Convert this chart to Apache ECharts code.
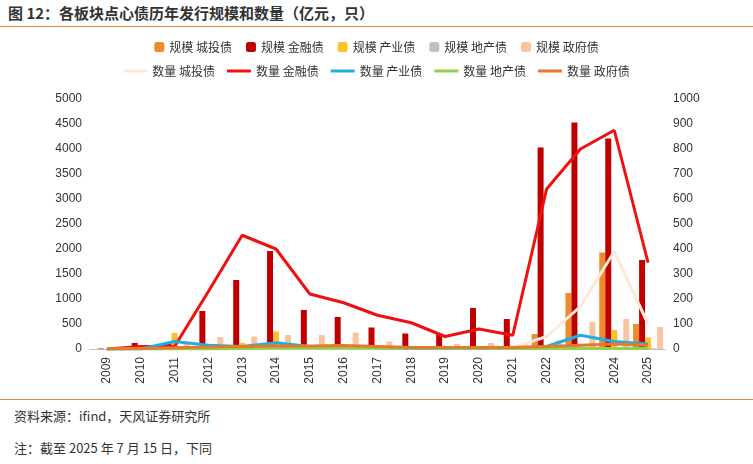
<!DOCTYPE html>
<html lang="zh-cn">
<head>
  <meta charset="utf-8">
  <script src="https://cdn.jsdelivr.net/npm/echarts@6/dist/echarts.min.js"></script>
  <style>
    body { margin: 0; width: 753px; height: 464px; font-family: "Noto Sans CJK SC", sans-serif; background: #fff; }
    .title { position: absolute; left: 8px; top: 2px; font-size: 15px; font-weight: bold; color: #333; }
    .line { position: absolute; left: 0; width: 753px; border-top: 1px solid #e08a3c; }
    .note { position: absolute; left: 14px; font-size: 13px; color: #333; }
    #chart { position: absolute; left: 0; top: 28px; width: 753px; height: 370px; }
  </style>
</head>
<body>
  <div class="title">图 12：各板块点心债历年发行规模和数量（亿元，只）</div>
  <div class="line" style="top:26px"></div>
  <div id="chart"></div>
  <div class="line" style="top:399px"></div>
  <div class="note" style="top:406px">资料来源：ifind，天风证券研究所</div>
  <div class="note" style="top:438px">注：截至 2025 年 7 月 15 日，下同</div>
  <script>
    // 年份
    var years = ['2009','2010','2011','2012','2013','2014','2015','2016','2017','2018','2019','2020','2021','2022','2023','2024','2025'];
    // 规模（亿元）
    var scaleCity = [0,0,10,10,10,10,10,10,10,10,10,10,20,300,1120,1930,500];
    var scaleFin = [10,120,130,760,1380,1960,780,640,430,310,300,820,600,4030,4530,4210,1780];
    var scaleInd = [0,0,320,100,120,350,50,30,10,10,10,10,10,30,50,380,230];
    var scaleEst = [0,0,0,0,10,10,10,10,10,30,20,10,10,10,10,10,10];
    var scaleGov = [0,10,150,240,250,280,280,330,150,60,100,120,130,170,540,600,440];
    // 数量（只）
    var cntCity = [0,0,2,2,2,3,3,3,3,3,3,3,5,50,170,390,100];
    var cntFin = [0,10,10,230,455,400,220,185,135,105,50,80,55,640,800,875,345];
    var cntInd = [0,0,30,15,10,25,10,8,5,3,3,3,3,10,55,30,20];
    var cntEst = [0,0,0,0,2,3,3,3,3,5,4,3,2,2,2,2,2];
    var cntGov = [0,2,5,8,10,12,12,14,10,6,6,6,6,10,15,20,15];

    var names = ['城投债','金融债','产业债','地产债','政府债'];
    var barColors = ['#f08a2c','#c00000','#ffc125','#bfbfbf','#f8c4a0'];
    var lineColors = ['#fbe9d9','#f01010','#1eaee6','#8fd14f','#e8782c'];
    var scales = [scaleCity, scaleFin, scaleInd, scaleEst, scaleGov];
    var counts = [cntCity, cntFin, cntInd, cntEst, cntGov];

    var series = [];
    names.forEach(function (n, i) {
      series.push({ name: '规模 ' + n, type: 'bar', data: scales[i], barWidth: 6, barGap: '0%',
        itemStyle: { color: barColors[i] } });
    });
    names.forEach(function (n, i) {
      series.push({ name: '数量 ' + n, type: 'line', yAxisIndex: 1, data: counts[i], symbol: 'none',
        lineStyle: { color: lineColors[i], width: 3 }, itemStyle: { color: lineColors[i] } });
    });

    var chart = echarts.init(document.getElementById('chart'));
    chart.setOption({
      animation: false,
      textStyle: { fontFamily: 'Noto Sans CJK SC' },
      legend: [
        { top: 8, left: 'center', itemWidth: 10, itemHeight: 10, itemGap: 14, textStyle: { fontSize: 12, color: '#333' },
          data: series.slice(0, 5).map(function (s) { return s.name; }) },
        { top: 32, left: 'center', itemWidth: 24, itemHeight: 3, itemGap: 12, textStyle: { fontSize: 12, color: '#333' },
          data: series.slice(5).map(function (s, i) { return { name: s.name, icon: 'rect', itemStyle: { color: lineColors[i] } }; }) }
      ],
      grid: { left: 90, right: 88, top: 71, bottom: 49 },
      xAxis: { type: 'category', data: years,
        axisLine: { lineStyle: { color: '#bfbfbf' } }, axisTick: { show: false },
        axisLabel: { rotate: 90, color: '#333', fontSize: 12, fontFamily: 'Arial' } },
      yAxis: [
        { type: 'value', min: 0, max: 5000, interval: 500, splitLine: { show: false },
          axisLabel: { color: '#333', fontSize: 12, fontFamily: 'Arial', formatter: function (v) { return String(v); } } },
        { type: 'value', min: 0, max: 1000, interval: 100, splitLine: { show: false },
          axisLabel: { color: '#333', fontSize: 12, fontFamily: 'Arial', formatter: function (v) { return String(v); } } }
      ],
      series: series
    });
  </script>
</body>
</html>
